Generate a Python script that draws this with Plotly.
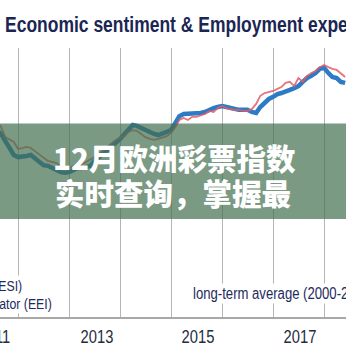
import json
import pandas as pd
import plotly.graph_objects as go

# Monthly index values, Aug 2011 - Jun 2018
esi = [97.1, 96.0, 94.0, 92.0, 90.0,
       89.4, 89.4, 89.7, 90.0, 89.1, 88.0, 87.1, 86.9, 86.3, 85.7, 85.1, 84.9,
       85.1, 85.7, 86.3, 86.3, 86.6, 86.9, 88.3, 89.4, 90.3, 91.4, 92.3, 93.4,
       94.6, 96.0, 97.4, 98.6, 98.3, 97.7, 97.1, 96.3, 96.0, 95.7, 96.3, 96.6,
       97.1, 99.1, 101.1, 101.7, 101.7, 101.7, 101.7, 102.0, 102.3, 102.9, 103.4, 103.7,
       104.0, 103.7, 103.4, 102.9, 102.9, 102.9, 102.9, 102.3, 102.0, 103.7, 105.1, 106.0,
       106.6, 107.4, 107.7, 108.0, 108.6, 109.1, 109.7, 110.9, 112.0, 112.6, 113.4, 114.6,
       114.9, 113.4, 112.3, 112.0, 110.9, 110.6]

eei = [99.4, 98.0, 95.1, 94.3, 93.7,
       91.7, 92.0, 92.3, 92.0, 91.1, 90.0, 89.1, 88.3, 88.0, 87.7, 86.9, 86.0,
       86.3, 86.9, 87.1, 87.4, 88.0, 88.6, 89.4, 90.3, 91.4, 92.3, 93.4, 94.3,
       94.9, 95.4, 96.6, 97.1, 96.9, 96.0, 95.1, 94.6, 94.3, 94.6, 94.9, 95.4,
       96.3, 98.0, 100.0, 100.6, 100.0, 100.9, 100.9, 101.4, 101.7, 102.6, 102.3, 103.4,
       104.0, 103.4, 103.1, 102.9, 102.9, 102.6, 102.6, 103.1, 104.6, 106.9, 107.7, 108.0,
       108.3, 108.9, 109.4, 110.6, 110.9, 109.7, 112.0, 110.9, 112.6, 113.4, 114.0, 115.1,
       115.7, 115.1, 114.6, 114.3, 113.4, 112.3]

months = pd.date_range("2011-08-01", periods=len(esi), freq="MS")

year_labels = ["2011", "2013", "2015", "2017"]
year_label_pos = ["2011-07-16", "2013-07-16", "2015-07-16", "2017-07-16"]

series_names = ["Economic sentiment indicator (ESI)",
                "Employment expectations indicator (EEI)"]
avg_label = "long-term average (2000-2017)"
title_text = "Economic sentiment & Employment expectations"
banner_lines = ["12月欧洲彩票指数", "实时查询，掌握最"]

W = H = 346
M_TOP, M_BOT = 48, 29
PLOT_H = H - M_TOP - M_BOT
X_RANGE = ["2011-08-24", "2018-06-07"]

NAVY = "#1d2a5c"
SANS = "Liberation Sans, Arial, sans-serif"
CJK = "Noto Sans CJK SC, sans-serif"


def py(pix):
    """Page pixel row -> paper y fraction."""
    return (H - M_BOT - pix) / PLOT_H


def date_to_paper(d):
    """Date -> paper x fraction along the time axis (also valid outside the range)."""
    t0, t1 = pd.Timestamp(X_RANGE[0]), pd.Timestamp(X_RANGE[1])
    return (pd.Timestamp(d) - t0) / (t1 - t0)


fig = go.Figure()
fig.add_trace(go.Scatter(x=months, y=esi, mode="lines", name=series_names[0],
                         line=dict(color="#2c7bc4", width=4.5), showlegend=False))
fig.add_trace(go.Scatter(x=months, y=eei, mode="lines", name=series_names[1],
                         line=dict(color="#e35d66", width=1.8), opacity=0.85,
                         showlegend=False))

# label text -> [fixed edge, horizontal squeeze] for the condensed Latin labels
squeeze = {}

# year labels under the axis
for lab, pos in zip(year_labels, year_label_pos):
    fig.add_annotation(x=date_to_paper(pos), xref="paper", y=py(336.5), yref="paper",
                       text=lab, showarrow=False, xanchor="center", yanchor="middle",
                       font=dict(family=SANS, size=18, color="#262c40"))
    squeeze[lab] = ["center", 0.82]

# legend captions
fig.add_annotation(x=24 / W, xref="paper", y=py(285), yref="paper", text=series_names[0],
                   showarrow=False, xanchor="right", yanchor="middle", bgcolor="white",
                   font=dict(family=SANS, size=15, color=NAVY))
fig.add_annotation(x=54 / W, xref="paper", y=py(303), yref="paper", text=series_names[1],
                   showarrow=False, xanchor="right", yanchor="middle", bgcolor="white",
                   font=dict(family=SANS, size=15, color=NAVY))
squeeze[series_names[0]] = ["right", 0.82]
squeeze[series_names[1]] = ["right", 0.82]
fig.add_annotation(x=191 / W, xref="paper", y=py(293), yref="paper", text=avg_label,
                   showarrow=False, xanchor="left", yanchor="middle", bgcolor="white",
                   font=dict(family=SANS, size=16, color=NAVY))
squeeze[avg_label] = ["left", 0.82]

# translucent banner with headline
fig.add_shape(type="rect", xref="paper", yref="paper", x0=-0.01, x1=1.01,
              y0=py(219), y1=py(123.5), fillcolor="rgba(66,111,78,0.7)",
              line=dict(width=0), layer="above")
fig.add_annotation(x=51 / W, xref="paper", y=py(157), yref="paper", text=banner_lines[0],
                   showarrow=False, xanchor="left", yanchor="middle",
                   font=dict(family=CJK, size=29.5, color="white", weight=900))
fig.add_annotation(x=53 / W, xref="paper", y=py(192), yref="paper", text=banner_lines[1],
                   showarrow=False, xanchor="left", yanchor="middle",
                   font=dict(family=CJK, size=29.5, color="white", weight=900))

fig.update_layout(
    width=W, height=H,
    margin=dict(l=0, r=0, t=M_TOP, b=M_BOT, pad=0),
    paper_bgcolor="white", plot_bgcolor="white",
    title=dict(text="<b>" + title_text + "</b>", x=5 / W, xanchor="left", xref="container",
               y=1 - 24.5 / H, yanchor="middle", yref="container",
               font=dict(family=SANS, size=22, color="#1b2654")),
    xaxis=dict(type="date", range=X_RANGE,
               dtick="M12", tick0="2012-01-01", showticklabels=False, ticks="",
               showgrid=True, gridcolor="#b5b5b5", gridwidth=1,
               showline=True, linecolor="#a8a8a8", linewidth=1.5,
               zeroline=False, fixedrange=True),
    yaxis=dict(range=[43.71, 120.57], visible=False, showgrid=False,
               zeroline=False, fixedrange=True),
    showlegend=False,
)

post_js = """
var gd = document.getElementById('{plot_id}');
var rules = %s;
function narrow(el, origin, k) {
  el.style.transformBox = 'fill-box';
  el.style.transformOrigin = origin + ' center';
  el.style.transform = 'scaleX(' + k + ')';
}
gd.querySelectorAll('.gtitle').forEach(function (el) { narrow(el, 'left', %s); });
gd.querySelectorAll('.annotation-text').forEach(function (el) {
  var r = rules[el.textContent];
  if (r) { narrow(el, r[0], r[1]); }
});
""" % (json.dumps(squeeze), 0.795)

fig.write_html("out.html", post_script=post_js)
